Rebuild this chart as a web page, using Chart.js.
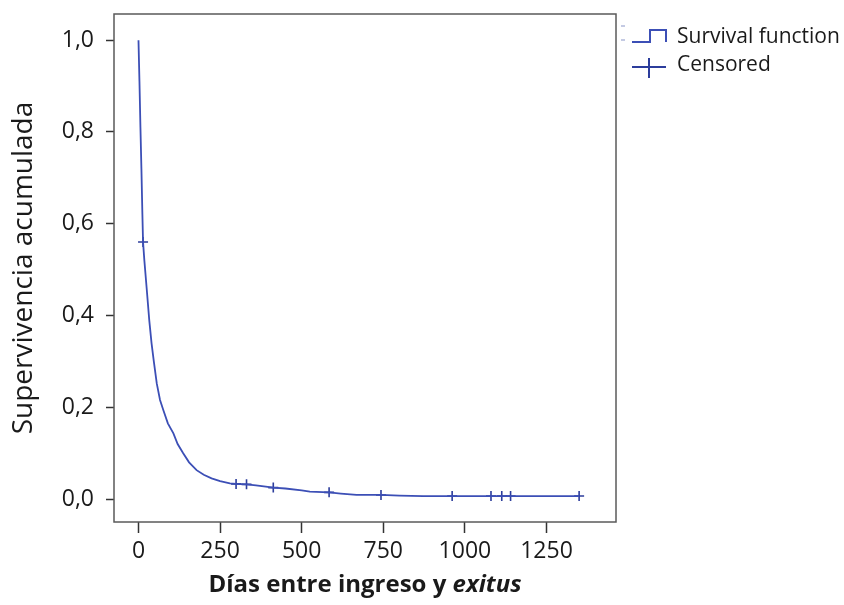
<!DOCTYPE html>
<html>
<head>
<meta charset="utf-8">
<script src="https://cdn.jsdelivr.net/npm/chart.js@4"></script>
<style>
  html, body { margin: 0; padding: 0; background: #fff; }
  #wrap { width: 844px; height: 605px; }
</style>
</head>
<body>
<div id="wrap"><canvas id="Chart" width="844" height="605"></canvas></div>
<script>
// Kaplan-Meier curve
const days     = [0, 3, 6, 9, 12, 14, 18, 25, 33, 40, 47, 56, 66, 76, 90, 107, 120, 137, 155, 178, 200, 224, 250, 280, 299, 331, 360, 390, 413, 450, 500, 525, 584, 620, 668, 743, 800, 872, 961, 1080, 1113, 1140, 1350];
const survival = [1.0, 0.91, 0.81, 0.72, 0.62, 0.56, 0.52, 0.46, 0.39, 0.34, 0.30, 0.252, 0.216, 0.194, 0.165, 0.143, 0.12, 0.10, 0.08, 0.063, 0.053, 0.045, 0.039, 0.034, 0.033, 0.032, 0.030, 0.027, 0.025, 0.023, 0.019, 0.016, 0.0146, 0.012, 0.009, 0.009, 0.0075, 0.0065, 0.0065, 0.0065, 0.0065, 0.0065, 0.0065];

// censored observations
const censorDays = [14, 299, 331, 413, 584, 743, 961, 1080, 1113, 1140, 1350];
const censorSurv = [0.56, 0.033, 0.032, 0.025, 0.0146, 0.009, 0.0065, 0.0065, 0.0065, 0.0065, 0.0065];

const xTicks = [0, 250, 500, 750, 1000, 1250];
const yTicks = [0, 0.2, 0.4, 0.6, 0.8, 1.0];

const lineColor = '#3c4fb6';
const censorColor = '#2c3d9c';
const fontFamily = '"Open Sans", "Noto Sans", sans-serif';

const framePlugin = {
    id: 'frame',
    afterDraw(chart) {
        const c = chart.ctx;
        const a = chart.chartArea;
        c.save();
        c.strokeStyle = '#5a5a5a';
        c.lineWidth = 1.5;
        c.strokeRect(a.left, a.top, a.right - a.left, a.bottom - a.top);

        // x title with italic last word
        const part1 = 'Días entre ingreso y ';
        const part2 = 'exitus';
        c.fillStyle = '#1a1a1a';
        c.textBaseline = 'middle';
        c.font = 'bold 24px ' + fontFamily;
        const w1 = c.measureText(part1).width;
        c.font = 'italic bold 24px ' + fontFamily;
        const w2 = c.measureText(part2).width;
        const cx = (a.left + a.right) / 2;
        let x0 = cx - (w1 + w2) / 2;
        c.font = 'bold 24px ' + fontFamily;
        c.fillText(part1, x0, 585);
        c.font = 'italic bold 24px ' + fontFamily;
        c.fillText(part2, x0 + w1, 585);

        // legend
        const lx = 632;
        c.strokeStyle = lineColor;
        c.lineWidth = 2;
        c.beginPath();
        c.moveTo(lx, 42);
        c.lineTo(lx + 18, 42);
        c.lineTo(lx + 18, 30);
        c.lineTo(lx + 34, 30);
        c.lineTo(lx + 34, 42);
        c.stroke();
        c.strokeStyle = censorColor;
        c.beginPath();
        c.moveTo(lx, 67);
        c.lineTo(lx + 34, 67);
        c.moveTo(lx + 17, 58);
        c.lineTo(lx + 17, 78);
        c.stroke();
        c.strokeStyle = '#8a95c8';
        c.lineWidth = 1.2;
        c.beginPath();
        c.moveTo(621, 26); c.lineTo(625, 26);
        c.moveTo(621, 40); c.lineTo(625, 40);
        c.stroke();

        c.fillStyle = '#1a1a1a';
        c.font = '21px ' + fontFamily;
        c.textBaseline = 'middle';
        c.fillText('Survival function', 677, 37);
        c.fillText('Censored', 677, 65);
        c.restore();
    }
};

const ctx = document.getElementById('Chart').getContext('2d');
const chart = new Chart(ctx, {
    type: 'scatter',
    data: {
        datasets: [{
            label: 'Survival function',
            data: days.map((d, i) => ({ x: d, y: survival[i] })),
            showLine: true,
            borderColor: lineColor,
            borderWidth: 1.8,
            pointRadius: 0,
            tension: 0
        }, {
            label: 'Censored',
            data: censorDays.map((d, i) => ({ x: d, y: censorSurv[i] })),
            pointStyle: 'cross',
            pointRadius: 5,
            borderColor: censorColor,
            borderWidth: 1.6
        }]
    },
    options: {
        responsive: false,
        animation: false,
        layout: {
            padding: { top: 14, right: 228, left: 0, bottom: 0 }
        },
        plugins: {
            legend: { display: false },
            tooltip: { enabled: false }
        },
        scales: {
            x: {
                type: 'linear',
                min: -75,
                max: 1463,
                afterBuildTicks: s => { s.ticks = xTicks.map(v => ({ value: v })); },
                afterFit: s => { s.height = 83; s.paddingLeft = 0; s.paddingRight = 0; },
                border: { display: false },
                grid: {
                    drawOnChartArea: false,
                    tickLength: 11,
                    tickWidth: 1.5,
                    tickColor: '#333'
                },
                ticks: {
                    padding: 5,
                    maxRotation: 0,
                    color: '#1a1a1a',
                    font: { family: fontFamily, size: 23 },
                    callback: v => String(v)
                }
            },
            y: {
                min: -0.05,
                max: 1.057,
                afterBuildTicks: s => { s.ticks = yTicks.map(v => ({ value: v })); },
                afterFit: s => { s.width = 114; s.paddingTop = 0; s.paddingBottom = 0; },
                border: { display: false },
                grid: {
                    drawOnChartArea: false,
                    tickLength: 8,
                    tickWidth: 1.5,
                    tickColor: '#333'
                },
                ticks: {
                    padding: 12,
                    color: '#1a1a1a',
                    font: { family: fontFamily, size: 23 },
                    callback: v => v.toFixed(1).replace('.', ',')
                },
                title: {
                    display: true,
                    text: 'Supervivencia acumulada',
                    color: '#1a1a1a',
                    font: { family: fontFamily, size: 28 },
                    padding: { top: 7, bottom: 0 }
                }
            }
        }
    },
    plugins: [framePlugin]
});
</script>
</body>
</html>
